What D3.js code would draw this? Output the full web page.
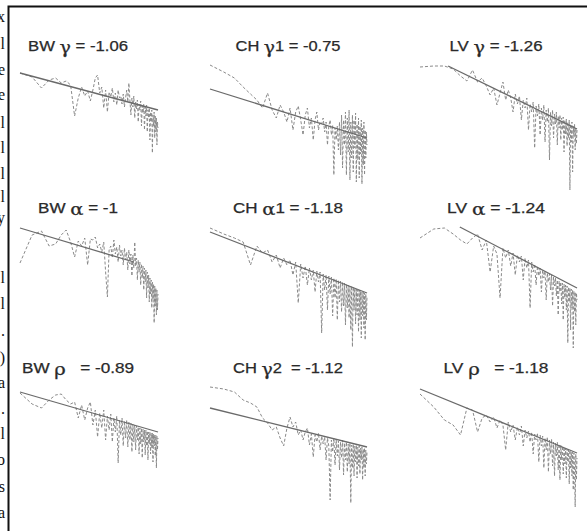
<!DOCTYPE html>
<html>
<head>
<meta charset="utf-8">
<script src="https://cdn.jsdelivr.net/npm/d3@7"></script>
<style>
  body { margin: 0; background: #fff; }
  text { white-space: pre; }
</style>
</head>
<body>
<div class="canvas"></div>
<script>
const width = 587;
const height = 531;

// frequency index range of every spectrum (log axis)
const kFirst = 3;
const kLast = 80;

// panel titles
const sites = ['BW', 'CH', 'LV', 'BW', 'CH', 'LV', 'BW', 'CH', 'LV'];
const symbols = ['γ', 'γ1', 'γ', 'α', 'α1', 'α', 'ρ', 'γ2', 'ρ'];
const exponents = ['-1.06', '-0.75', '-1.26', '-1', '-1.18', '-1.24', '-0.89', '-1.12', '-1.18'];

// fitted power law, [k start, dB start, k end, dB end]
const fits = [
  [3, -13, 80, -50], [3, -29, 80, -78], [5.4, -6, 80, -69],
  [3, -8, 45, -42], [3, -12, 80, -73], [6.9, -7, 80, -68],
  [3, -12, 80, -52], [3, -28, 80, -67], [3, -9, 80, -73]
];

// spectra in dB, one value per index k = 3..80
const bwGamma = [-13, -17, -28, -20, -18, -23, -21, -25, -56, -38,
  -27, -36, -31, -41, -30, -18, -15, -33, -27, -48,
  -30, -52, -32, -37, -28, -42, -33, -45, -30, -38,
  -36, -44, -34, -47, -38, -30, -42, -23, -40, -55,
  -38, -47, -36, -58, -42, -49, -40, -62, -44, -50,
  -41, -66, -46, -53, -44, -70, -47, -56, -45, -72,
  -50, -58, -48, -80, -52, -62, -50, -93, -55, -66,
  -52, -78, -56, -72, -58, -85, -62, -68];
const chGamma1 = [-5, -12, -18, -27, -34, -40, -48, -33, -50, -58,
  -45, -52, -62, -48, -70, -52, -46, -60, -75, -55,
  -48, -68, -58, -80, -60, -52, -70, -62, -64, -58,
  -72, -62, -85, -66, -60, -75, -65, -115, -68, -80,
  -66, -90, -62, -95, -55, -108, -60, -85, -52, -115,
  -58, -92, -50, -120, -62, -98, -55, -112, -60, -88,
  -53, -122, -64, -100, -58, -118, -66, -94, -60, -124,
  -68, -105, -62, -115, -70, -98, -72, -85];
const lvGamma = [-7, -6, -6, -9, -16, -21, -10, -22, -18, -26,
  -35, -28, -45, -33, -22, -40, -30, -38, -52, -34,
  -44, -36, -60, -40, -48, -38, -70, -44, -52, -42,
  -88, -46, -56, -44, -75, -48, -60, -45, -82, -50,
  -62, -48, -100, -52, -66, -50, -78, -54, -64, -52,
  -85, -56, -68, -55, -80, -58, -70, -57, -92, -60,
  -74, -59, -86, -62, -78, -60, -130, -64, -82, -62,
  -112, -66, -76, -64, -90, -68, -84, -70];
const bwAlpha = [-43, -15, -11, -26, -24, -15, -10, -22, -37, -21,
  -26, -18, -45, -19, -20, -17, -28, -24, -32, -22,
  -52, -77, -30, -26, -38, -20, -34, -27, -42, -25,
  -36, -30, -45, -28, -40, -32, -50, -30, -44, -34,
  -56, -35, -48, -22, -46, -38, -60, -40, -52, -42,
  -65, -44, -58, -46, -70, -48, -62, -50, -78, -52,
  -68, -55, -82, -58, -74, -60, -88, -62, -80, -64,
  -103, -66, -86, -68, -95, -70, -90, -74];
const chAlpha1 = [-8, -14, -18, -22, -45, -26, -33, -30, -42, -35,
  -48, -38, -45, -40, -55, -42, -83, -44, -58, -46,
  -65, -48, -60, -50, -72, -51, -62, -52, -113, -54,
  -70, -55, -90, -56, -74, -57, -96, -58, -78, -59,
  -100, -60, -82, -61, -92, -62, -86, -63, -105, -64,
  -88, -65, -98, -66, -110, -66, -127, -67, -90, -68,
  -104, -69, -95, -70, -112, -70, -100, -71, -118, -72,
  -96, -72, -108, -73, -120, -74, -100, -76];
const lvAlpha = [-18, -9, -8, -14, -20, -24, -18, -14, -30, -20,
  -52, -26, -34, -78, -28, -38, -30, -46, -33, -55,
  -35, -42, -36, -60, -38, -48, -40, -88, -42, -52,
  -44, -65, -46, -56, -48, -72, -50, -58, -51, -80,
  -53, -62, -54, -70, -55, -86, -57, -66, -58, -76,
  -60, -95, -61, -72, -62, -84, -63, -100, -64, -78,
  -65, -90, -66, -123, -67, -82, -68, -110, -69, -88,
  -70, -128, -71, -92, -72, -105, -73, -80];
const bwRho = [-13, -24, -28, -20, -15, -14, -20, -24, -22, -38,
  -25, -40, -28, -22, -45, -30, -57, -33, -48, -30,
  -60, -36, -50, -34, -62, -38, -52, -36, -83, -40,
  -55, -38, -66, -41, -58, -40, -67, -42, -60, -43,
  -72, -44, -62, -45, -70, -46, -60, -47, -74, -48,
  -64, -48, -78, -49, -62, -50, -75, -50, -66, -51,
  -80, -52, -64, -52, -74, -53, -68, -53, -82, -54,
  -66, -55, -76, -55, -88, -56, -70, -58];
const chGamma2 = [-7, -9, -12, -20, -23, -27, -38, -43, -50, -47,
  -58, -66, -48, -37, -47, -42, -55, -50, -60, -52,
  -48, -65, -54, -77, -55, -62, -53, -70, -56, -64,
  -57, -80, -58, -66, -120, -60, -72, -58, -85, -60,
  -76, -61, -90, -62, -78, -60, -95, -63, -80, -62,
  -92, -64, -84, -63, -123, -65, -88, -64, -96, -66,
  -82, -65, -98, -67, -86, -66, -94, -68, -80, -67,
  -100, -69, -88, -68, -96, -70, -84, -72];
const lvRho = [-14, -27, -40, -45, -55, -28, -30, -52, -38, -35,
  -42, -37, -48, -40, -45, -70, -42, -52, -45, -60,
  -47, -55, -46, -66, -50, -58, -51, -62, -52, -74,
  -54, -60, -53, -82, -55, -66, -56, -88, -58, -70,
  -57, -92, -60, -74, -59, -86, -62, -96, -63, -76,
  -62, -90, -64, -100, -65, -80, -66, -94, -67, -84,
  -68, -98, -69, -82, -70, -104, -70, -88, -72, -96,
  -72, -110, -73, -90, -127, -74, -100, -78];

const spectra = [bwGamma, chGamma1, lvGamma, bwAlpha, chAlpha1, lvAlpha, bwRho, chGamma2, lvRho];

// line ends of the neighbouring text column, cut by the page edge
const marginChars = ['x', 'l', 'e', 'e', 'l', 'l', 'l', 'l', 'y',
  'l', 'l', '.', ')', 'a', '.', 'l', 'o', 's', 'a'];

// layout
const colX = [[20, 158], [210, 367], [420, 577]];
const rowTop = [60, 220, 380];
const titleY = [51, 213, 373];
const titleCx = [78, 288, 496];
const titleW = [100, 105, 93, 80, 110, 98, 112, 110, 105];
const marginY = [22, 49, 75, 100, 128, 153, 179, 202, 223,
  283, 309, 336, 363, 388, 414, 439, 465, 492, 518];

const canvas = d3
  .select('.canvas')
  .append('svg')
  .attr('width', width)
  .attr('height', height);

// cut-off text on the left
canvas
  .selectAll('text.margin')
  .data(marginChars)
  .enter()
  .append('text')
  .attr('class', 'margin')
  .attr('x', 5)
  .attr('y', (d, i) => marginY[i])
  .attr('text-anchor', 'end')
  .style('font-family', '"Liberation Serif", "DejaVu Serif", serif')
  .style('font-size', '16px')
  .style('fill', '#111')
  .text((d) => d);

// frame
canvas
  .append('path')
  .attr('d', `M8.5,${height} V6.5 H${width}`)
  .style('fill', 'none')
  .style('stroke', '#111')
  .style('stroke-width', '2px');

spectra.forEach(function (values, i) {
  const col = i % 3;
  const row = Math.floor(i / 3);

  const xScale = d3.scaleLog().domain([kFirst, kLast]).range(colX[col]);
  const yScale = d3
    .scaleLinear()
    .domain([0, -140])
    .range([rowTop[row], rowTop[row] + 140]);

  const g = canvas.append('g').attr('class', 'panel');

  // Draw spectrum
  const line = d3
    .line()
    .x((d, j) => xScale(j + kFirst))
    .y((d) => yScale(d));

  g.append('path')
    .datum(values)
    .attr('d', line)
    .style('fill', 'none')
    .style('stroke', '#8a8a8a')
    .style('stroke-width', '1px')
    .style('stroke-dasharray', '3,2');

  // Draw fit
  const f = fits[i];
  g.append('line')
    .attr('x1', xScale(f[0]))
    .attr('y1', yScale(f[1]))
    .attr('x2', xScale(f[2]))
    .attr('y2', yScale(f[3]))
    .style('stroke', '#6a6a6a')
    .style('stroke-width', '1.3px');

  // Title
  const sep = symbols[i] === 'ρ' ? '   = ' : symbols[i] === 'γ2' ? '  = ' : ' = ';
  const title = g
    .append('text')
    .attr('x', titleCx[col])
    .attr('y', titleY[row])
    .attr('text-anchor', 'middle')
    .attr('textLength', titleW[i])
    .attr('lengthAdjust', 'spacingAndGlyphs')
    .style('font-family', '"Liberation Sans", Arial, sans-serif')
    .style('font-size', '14px')
    .style('fill', '#2a2a2a')
    .style('stroke', '#2a2a2a')
    .style('stroke-width', '0.25px');
  title.append('tspan').text(sites[i] + ' ');
  title
    .append('tspan')
    .style('font-family', '"DejaVu Serif", serif')
    .style('font-size', '16px')
    .attr('dy', 2)
    .text(symbols[i].charAt(0));
  title
    .append('tspan')
    .attr('dy', -2)
    .text(symbols[i].slice(1) + sep + exponents[i]);
});
</script>
</body>
</html>
